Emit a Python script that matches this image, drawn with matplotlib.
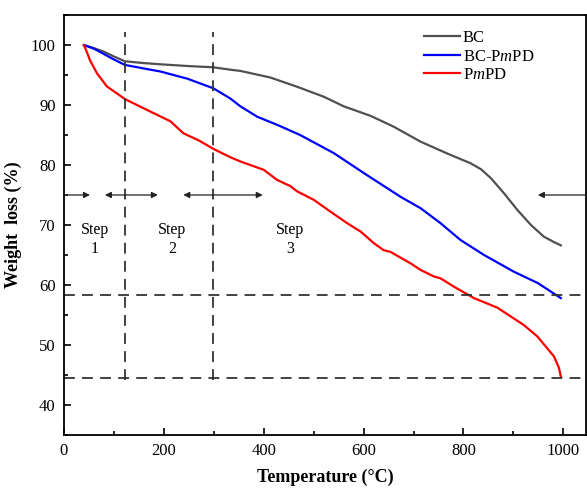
import numpy as np
import matplotlib
matplotlib.use("Agg")
import matplotlib.pyplot as plt
from matplotlib.ticker import MultipleLocator

plt.rcParams["font.family"] = ["Liberation Serif", "DejaVu Serif"]
plt.rcParams["mathtext.fontset"] = "custom"
plt.rcParams["mathtext.rm"] = "Liberation Serif"
plt.rcParams["mathtext.it"] = "Liberation Serif:italic"

# TGA curves, temperature in degC and remaining weight in %
bc_temp = [40, 60, 80, 100, 122, 160, 193, 250, 299, 333, 353, 413, 467, 520,
           560, 614, 660, 714, 768, 814, 835, 855, 881, 908, 935, 961, 980, 995]
bc_wt = [100, 99.5, 98.9, 98.1, 97.3, 97.0, 96.8, 96.5, 96.3, 95.9, 95.7, 94.6,
         93.05, 91.4, 89.8, 88.2, 86.4, 83.9, 81.9, 80.3, 79.3, 77.8, 75.3, 72.5,
         70.0, 68.05, 67.2, 66.6]

bcp_temp = [40, 60, 78, 100, 122, 160, 193, 247, 299, 333, 353, 387, 427, 473,
            540, 607, 674, 714, 754, 794, 841, 901, 949, 995]
bcp_wt = [100, 99.4, 98.6, 97.6, 96.7, 96.1, 95.6, 94.4, 92.8, 91.1, 89.8, 88.05,
          86.7, 85.0, 82.0, 78.3, 74.7, 72.8, 70.3, 67.5, 65.0, 62.2, 60.3, 57.8]

pmpd_temp = [40, 46, 52, 66, 86, 105, 122, 166, 213, 239, 270, 299, 333, 353,
             400, 427, 453, 467, 500, 534, 567, 594, 620, 640, 654, 694, 714,
             741, 754, 781, 821, 868, 921, 948, 981, 991, 995]
pmpd_wt = [100, 98.8, 97.5, 95.3, 93.1, 92.0, 91.0, 89.2, 87.3, 85.3, 84.1, 82.7,
           81.3, 80.6, 79.2, 77.5, 76.5, 75.6, 74.2, 72.2, 70.3, 68.9, 67.0, 65.8,
           65.5, 63.6, 62.5, 61.4, 61.1, 59.7, 57.8, 56.2, 53.3, 51.4, 48.1, 46.2,
           44.7]

step_bounds = [122, 298]        # vertical guide lines
residue_levels = [58.3, 44.5]   # horizontal guide lines
step_labels = ["Step\n1", "Step\n2", "Step\n3"]
step_label_x = [62, 216, 453]

fig, ax = plt.subplots(figsize=(5.87, 4.88), dpi=100)
fig.subplots_adjust(left=0.109, right=0.998, bottom=0.109, top=0.969)

ax.plot(bc_temp, bc_wt, color="#505050", lw=1.6, label="BC")
ax.plot(bcp_temp, bcp_wt, color="#0000ff", lw=1.6, label=r"BC-P$\mathit{m}$PD")
ax.plot(pmpd_temp, pmpd_wt, color="#ff0000", lw=1.6, label=r"P$\mathit{m}$PD")

dash = dict(color="#333333", lw=1.3, dashes=(6, 4))
for lvl in residue_levels:
    ax.axhline(lvl, **dash)
for xb in step_bounds:
    ax.plot([xb, xb], [44.2, 102.2], **dash)

# step range arrows
arrow_y = 75
arrows = [(8, 52), (122, 82), (122, 188), (298, 239), (298, 398), (1045, 949)]
for x0, x1 in arrows:
    ax.annotate("", xy=(x1, arrow_y), xytext=(x0, arrow_y),
                arrowprops=dict(arrowstyle="-|>", color="#222222", lw=0.9,
                                mutation_scale=9, shrinkA=0, shrinkB=0))

for lbl, xs in zip(step_labels, step_label_x):
    ax.text(xs, 67.6, lbl, ha="center", va="center", fontsize=11.5,
            linespacing=1.25)

ax.set_xlim(0, 1045)
ax.set_ylim(35, 105)
ax.xaxis.set_major_locator(MultipleLocator(200))
ax.xaxis.set_minor_locator(MultipleLocator(100))
ax.yaxis.set_major_locator(MultipleLocator(10))
ax.yaxis.set_minor_locator(MultipleLocator(5))
ax.set_yticks(np.arange(40, 101, 10))
ax.tick_params(which="both", direction="in", width=1.2, labelsize=12)
ax.tick_params(which="major", length=5, pad=6)
ax.tick_params(which="minor", length=3)
for sp in ax.spines.values():
    sp.set_linewidth(1.3)

ax.set_xlabel("Temperature (\u00b0C)", fontsize=13, fontweight="bold", labelpad=7)
ax.set_ylabel("Weight  loss (%)", fontsize=13, fontweight="bold", labelpad=6)

ax.legend(loc="upper right", bbox_to_anchor=(0.93, 1.0), frameon=False,
          fontsize=12, handlelength=2.2, handletextpad=0.15, labelspacing=0.15)

fig.savefig("out.png", dpi=100)
